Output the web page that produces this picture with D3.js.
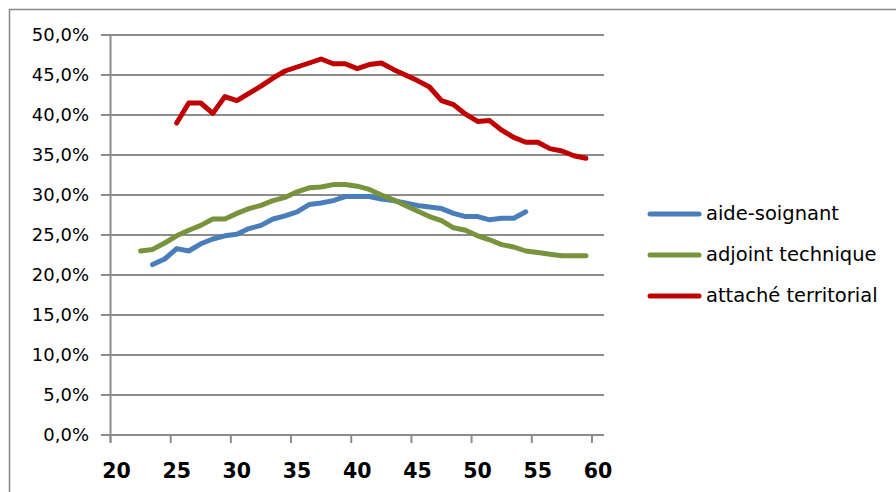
<!DOCTYPE html>
<html>
<head>
<meta charset="utf-8">
<script src="https://cdn.jsdelivr.net/npm/d3@7"></script>
<style>
  body { margin: 0; background: #fff; }
  svg { display: block; }
</style>
</head>
<body>
<div id="graph1"></div>
<script>
var w = 896;
var h = 492;

// categories (age)
var ages = [20, 21, 22, 23, 24, 25, 26, 27, 28, 29, 30, 31, 32, 33, 34, 35, 36, 37, 38, 39, 40,
    41, 42, 43, 44, 45, 46, 47, 48, 49, 50, 51, 52, 53, 54, 55, 56, 57, 58, 59, 60];
var ageLabels = [20, 25, 30, 35, 40, 45, 50, 55, 60];
var yTicks = [0, 5, 10, 15, 20, 25, 30, 35, 40, 45, 50];

// series values, in %, starting at the given age
var aideStart = 23;
var aideSoignant = [21.3, 22.0, 23.3, 23.0, 23.9, 24.5, 24.9, 25.1, 25.8, 26.2, 27.0, 27.4, 27.9, 28.8,
    29.0, 29.3, 29.8, 29.8, 29.8, 29.5, 29.3, 29.0, 28.7, 28.5, 28.3, 27.7, 27.3, 27.3, 26.9, 27.1, 27.1, 27.9];
var adjointStart = 22;
var adjointTechnique = [23.0, 23.2, 24.0, 24.9, 25.6, 26.2, 27.0, 27.0, 27.7, 28.3, 28.7, 29.3, 29.7, 30.4,
    30.9, 31.0, 31.3, 31.3, 31.1, 30.7, 30.0, 29.4, 28.7, 28.0, 27.3, 26.8, 25.9, 25.6, 24.9, 24.4, 23.8,
    23.5, 23.0, 22.8, 22.6, 22.4, 22.4, 22.4];
var attacheStart = 25;
var attacheTerritorial = [39.0, 41.5, 41.5, 40.2, 42.3, 41.8, 42.7, 43.6, 44.6, 45.5, 46.0, 46.5, 47.0,
    46.4, 46.4, 45.8, 46.3, 46.5, 45.7, 45.0, 44.3, 43.5, 41.8, 41.3, 40.1, 39.2, 39.3, 38.1, 37.2, 36.6,
    36.6, 35.8, 35.5, 34.9, 34.6];

var seriesNames = ["aide-soignant", "adjoint technique", "attaché territorial"];
var colors = ["#4a7ebb", "#77933c", "#c00000"];

var series = [
    { name: seriesNames[0], start: aideStart, values: aideSoignant },
    { name: seriesNames[1], start: adjointStart, values: adjointTechnique },
    { name: seriesNames[2], start: attacheStart, values: attacheTerritorial }
];

var svg = d3.select("#graph1")
    .append("svg")
    .attr("width", w)
    .attr("height", h);

// outer chart border
svg.append("rect")
    .attr("x", 9.5)
    .attr("y", 9.5)
    .attr("width", w)
    .attr("height", h)
    .attr("fill", "none")
    .attr("stroke", "#868686")
    .attr("stroke-width", 1.5);

var x = d3.scaleBand()
    .domain(ages)
    .range([110.5, 604]);

var y = d3.scaleLinear()
    .domain([0, 50])
    .range([435, 35]);

var gridColor = "#8c8c8c";

// horizontal gridlines + y labels
svg.selectAll("line.grid")
    .data(yTicks)
    .enter()
    .append("line")
    .attr("class", "grid")
    .attr("x1", 101)
    .attr("x2", 604)
    .attr("y1", function (d) { return y(d); })
    .attr("y2", function (d) { return y(d); })
    .attr("stroke", gridColor)
    .attr("stroke-width", 2);

svg.selectAll("text.ylab")
    .data(yTicks)
    .enter()
    .append("text")
    .attr("class", "ylab")
    .attr("x", 89)
    .attr("y", function (d) { return y(d); })
    .attr("dy", "0.36em")
    .attr("text-anchor", "end")
    .style("font-family", "'DejaVu Sans', sans-serif")
    .style("font-size", "18px")
    .style("fill", "#000")
    .text(function (d) { return d3.format(".1f")(d).replace(".", ",") + "%"; });

// vertical axis
svg.append("line")
    .attr("x1", x(ages[0]))
    .attr("x2", x(ages[0]))
    .attr("y1", y(50))
    .attr("y2", y(0) + 8)
    .attr("stroke", gridColor)
    .attr("stroke-width", 2);

// x ticks and labels
svg.selectAll("line.xtick")
    .data(ageLabels)
    .enter()
    .append("line")
    .attr("class", "xtick")
    .attr("x1", function (d) { return x(d); })
    .attr("x2", function (d) { return x(d); })
    .attr("y1", y(0))
    .attr("y2", y(0) + 8)
    .attr("stroke", gridColor)
    .attr("stroke-width", 2);

svg.selectAll("text.xlab")
    .data(ageLabels)
    .enter()
    .append("text")
    .attr("class", "xlab")
    .attr("x", function (d) { return x(d) + x.bandwidth() / 2; })
    .attr("y", 478)
    .attr("text-anchor", "middle")
    .style("font-family", "'DejaVu Sans', sans-serif")
    .style("font-weight", "bold")
    .style("font-size", "20.5px")
    .style("fill", "#000")
    .text(function (d) { return d; });

// lines
var line = d3.line()
    .x(function (d) { return x(d.age) + x.bandwidth() / 2; })
    .y(function (d) { return y(d.value); });

svg.selectAll("path.series")
    .data(series)
    .enter()
    .append("path")
    .attr("class", "series")
    .attr("fill", "none")
    .attr("stroke", function (d, i) { return colors[i]; })
    .attr("stroke-width", 5)
    .attr("stroke-linejoin", "round")
    .attr("stroke-linecap", "round")
    .attr("d", function (s) {
        return line(s.values.map(function (v, i) {
            return { age: s.start + i, value: v };
        }));
    });

// legend
var legendY = [214, 255, 296];
var legend = svg.selectAll(".legend")
    .data(seriesNames)
    .enter()
    .append("g")
    .attr("class", "legend")
    .attr("transform", function (d, i) {
        return "translate(650," + legendY[i] + ")";
    });

legend.append("line")
    .attr("x1", 0)
    .attr("x2", 49)
    .attr("y1", 0)
    .attr("y2", 0)
    .attr("stroke", function (d, i) { return colors[i]; })
    .attr("stroke-width", 5)
    .attr("stroke-linecap", "round");

legend.append("text")
    .attr("x", 56)
    .attr("y", 0)
    .attr("dy", "0.32em")
    .style("font-family", "'DejaVu Sans', sans-serif")
    .style("font-size", "19.5px")
    .style("fill", "#000")
    .text(function (d) { return d; });
</script>
</body>
</html>
